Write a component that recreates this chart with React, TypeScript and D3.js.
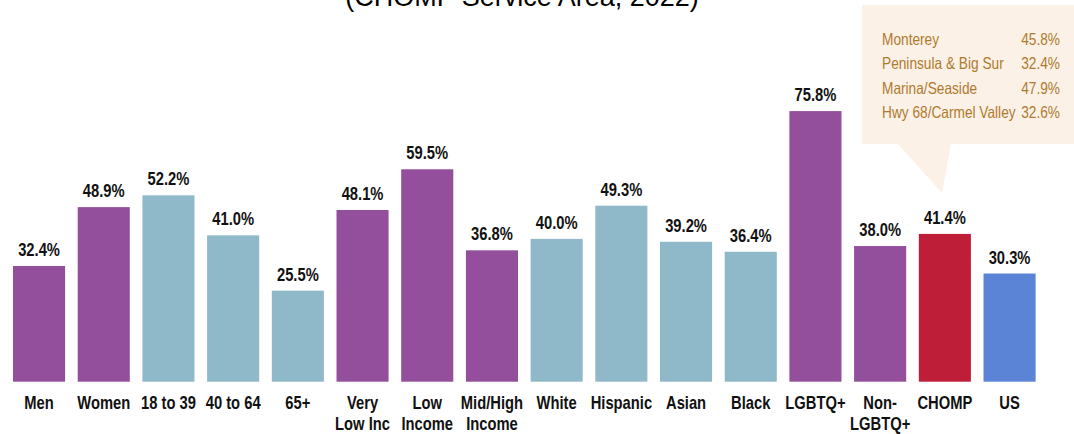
import React from "react";
import * as d3 from "d3";

const categories: string[][] = [
  ["Men"], ["Women"], ["18 to 39"], ["40 to 64"], ["65+"],
  ["Very", "Low Inc"], ["Low", "Income"], ["Mid/High", "Income"],
  ["White"], ["Hispanic"], ["Asian"], ["Black"], ["LGBTQ+"],
  ["Non-", "LGBTQ+"], ["CHOMP"], ["US"],
];
const values: number[] = [32.4, 48.9, 52.2, 41.0, 25.5, 48.1, 59.5, 36.8, 40.0, 49.3, 39.2, 36.4, 75.8, 38.0, 41.4, 30.3];
const colorGroups: string[] = ["p", "p", "b", "b", "b", "p", "p", "p", "b", "b", "b", "b", "p", "p", "r", "u"];
const calloutNames: string[] = ["Monterey", "Peninsula & Big Sur", "Marina/Seaside", "Hwy 68/Carmel Valley"];
const calloutValues: string[] = ["45.8%", "32.4%", "47.9%", "32.6%"];

const palette: Record<string, string> = { p: "#934F9B", b: "#8FB8C8", r: "#BE1E38", u: "#5B84D6" };

export default function App() {
  const W = 1074, H = 434;
  const x = d3.scaleBand<number>().domain(d3.range(values.length)).range([3.3, 1045.3]).paddingInner(0.195).paddingOuter(0.15);
  const y = d3.scaleLinear().domain([0, 100]).range([381.7, 24.7]);
  const font = "'Liberation Sans', Arial, sans-serif";
  const sx = 0.82;
  return (
    <svg width={W} height={H} style={{ position: "absolute", left: 0, top: 0, background: "#fff" }}>
      <text x={522} y={6} textAnchor="middle" fontFamily={font} fontSize={27} fill="#000">(CHOMP Service Area, 2022)</text>
      {values.map((v, i) => {
        const bx = x(i)!;
        const cx = bx + x.bandwidth() / 2;
        return (
          <g key={i}>
            <rect x={bx} y={y(v)} width={x.bandwidth()} height={y(0) - y(v)} fill={palette[colorGroups[i]]} />
            <text transform={`translate(${cx},${y(v) - 10}) scale(${sx},1)`} textAnchor="middle" fontFamily={font} fontWeight="bold" fontSize={18} fill="#111">{v.toFixed(1)}%</text>
            {categories[i].map((line, j) => (
              <text key={j} transform={`translate(${cx},${408.5 + j * 21}) scale(${sx},1)`} textAnchor="middle" fontFamily={font} fontWeight="bold" fontSize={18} fill="#111">{line}</text>
            ))}
          </g>
        );
      })}
      <path d="M862,5 L1074,5 L1074,144 L951,144 L942,193 L898,144 L862,144 Z" fill="#FBF1E6" />
      {calloutNames.map((n, i) => (
        <g key={i}>
          <text transform={`translate(882,${45 + i * 24.3}) scale(0.84,1)`} fontFamily={font} fontSize={16.3} fill="#B07A2E">{n}</text>
          <text transform={`translate(1060,${45 + i * 24.3}) scale(0.84,1)`} textAnchor="end" fontFamily={font} fontSize={16.3} fill="#B07A2E">{calloutValues[i]}</text>
        </g>
      ))}
    </svg>
  );
}
